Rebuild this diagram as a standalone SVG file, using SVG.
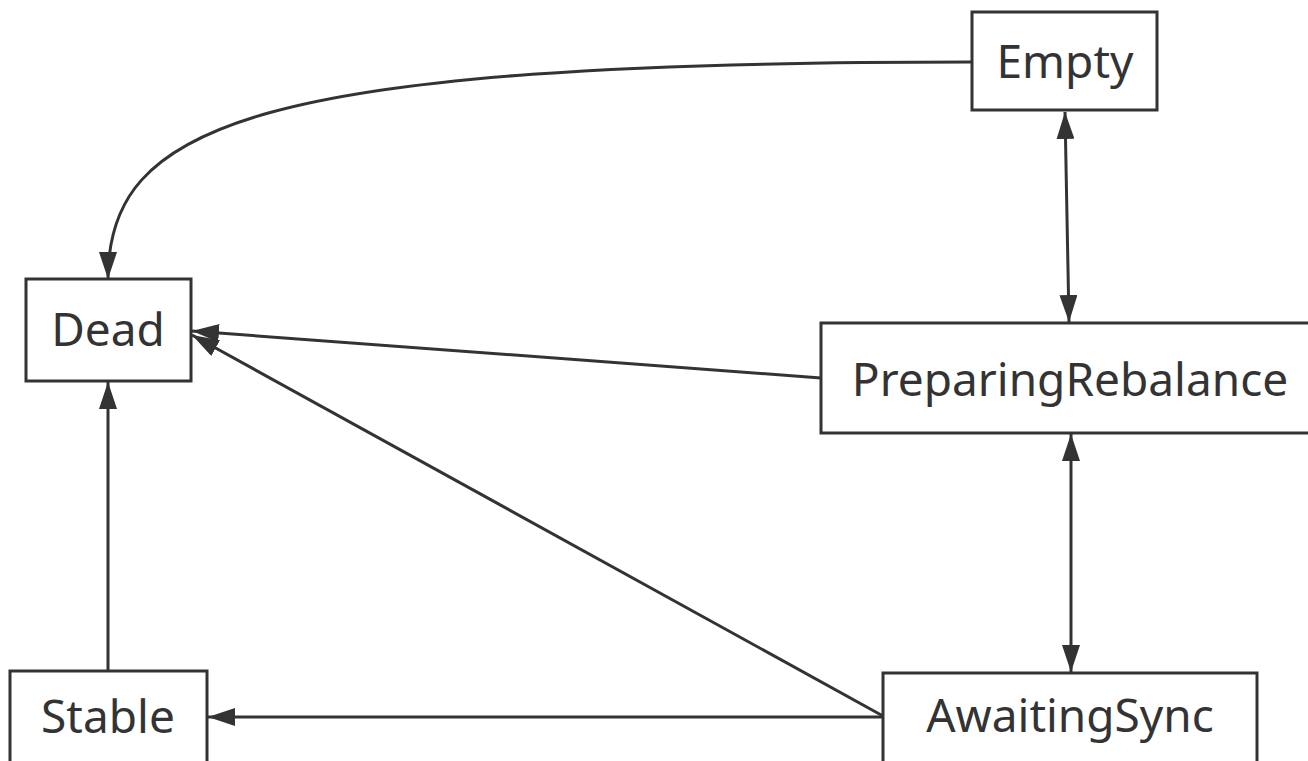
<svg xmlns="http://www.w3.org/2000/svg" width="1308" height="761" viewBox="0 0 1308 761">
  <style>
    .box { fill: #ffffff; stroke: #333333; stroke-width: 3; }
    .label { font-family: "Noto Sans", "Open Sans", sans-serif; font-size: 46px; fill: #333333; text-anchor: middle; }
    .edge { fill: none; stroke: #333333; stroke-width: 3; }
  </style>
  <defs>
    <marker id="arrow" viewBox="0 0 27 18" refX="27" refY="9" markerWidth="27" markerHeight="18" markerUnits="userSpaceOnUse" orient="auto-start-reverse">
      <path d="M0,0 L27,9 L0,18 Z" fill="#333333"/>
    </marker>
  </defs>
  <rect width="1308" height="761" fill="#ffffff"/>

  <g id="connectors">
    <path class="edge" d="M972,62 C250,62 108,125 108,279" marker-end="url(#arrow)"/>
    <path class="edge" d="M1065,112 L1069,322" marker-start="url(#arrow)" marker-end="url(#arrow)"/>
    <path class="edge" d="M821,378 L192,331" marker-end="url(#arrow)"/>
    <path class="edge" d="M883,716 L192,335" marker-end="url(#arrow)"/>
    <path class="edge" d="M883,717 L208,717" marker-end="url(#arrow)"/>
    <path class="edge" d="M1071,434 L1071,672" marker-start="url(#arrow)" marker-end="url(#arrow)"/>
    <path class="edge" d="M108,671 L108,382" marker-end="url(#arrow)"/>
  </g>

  <g id="node-empty">
    <rect class="box" x="972" y="12" width="185" height="98"/>
    <text class="label" x="1065" y="78">Empty</text>
  </g>
  <g id="node-dead">
    <rect class="box" x="26" y="279" width="165" height="102"/>
    <text class="label" x="108" y="346">Dead</text>
  </g>
  <g id="node-preparing-rebalance">
    <rect class="box" x="821" y="323" width="490" height="110"/>
    <text class="label" x="1070" y="396">PreparingRebalance</text>
  </g>
  <g id="node-stable">
    <rect class="box" x="10" y="671" width="197" height="100"/>
    <text class="label" x="108" y="733">Stable</text>
  </g>
  <g id="node-awaiting-sync">
    <rect class="box" x="883" y="673" width="374" height="100"/>
    <text class="label" x="1070" y="732">AwaitingSync</text>
  </g>
</svg>
